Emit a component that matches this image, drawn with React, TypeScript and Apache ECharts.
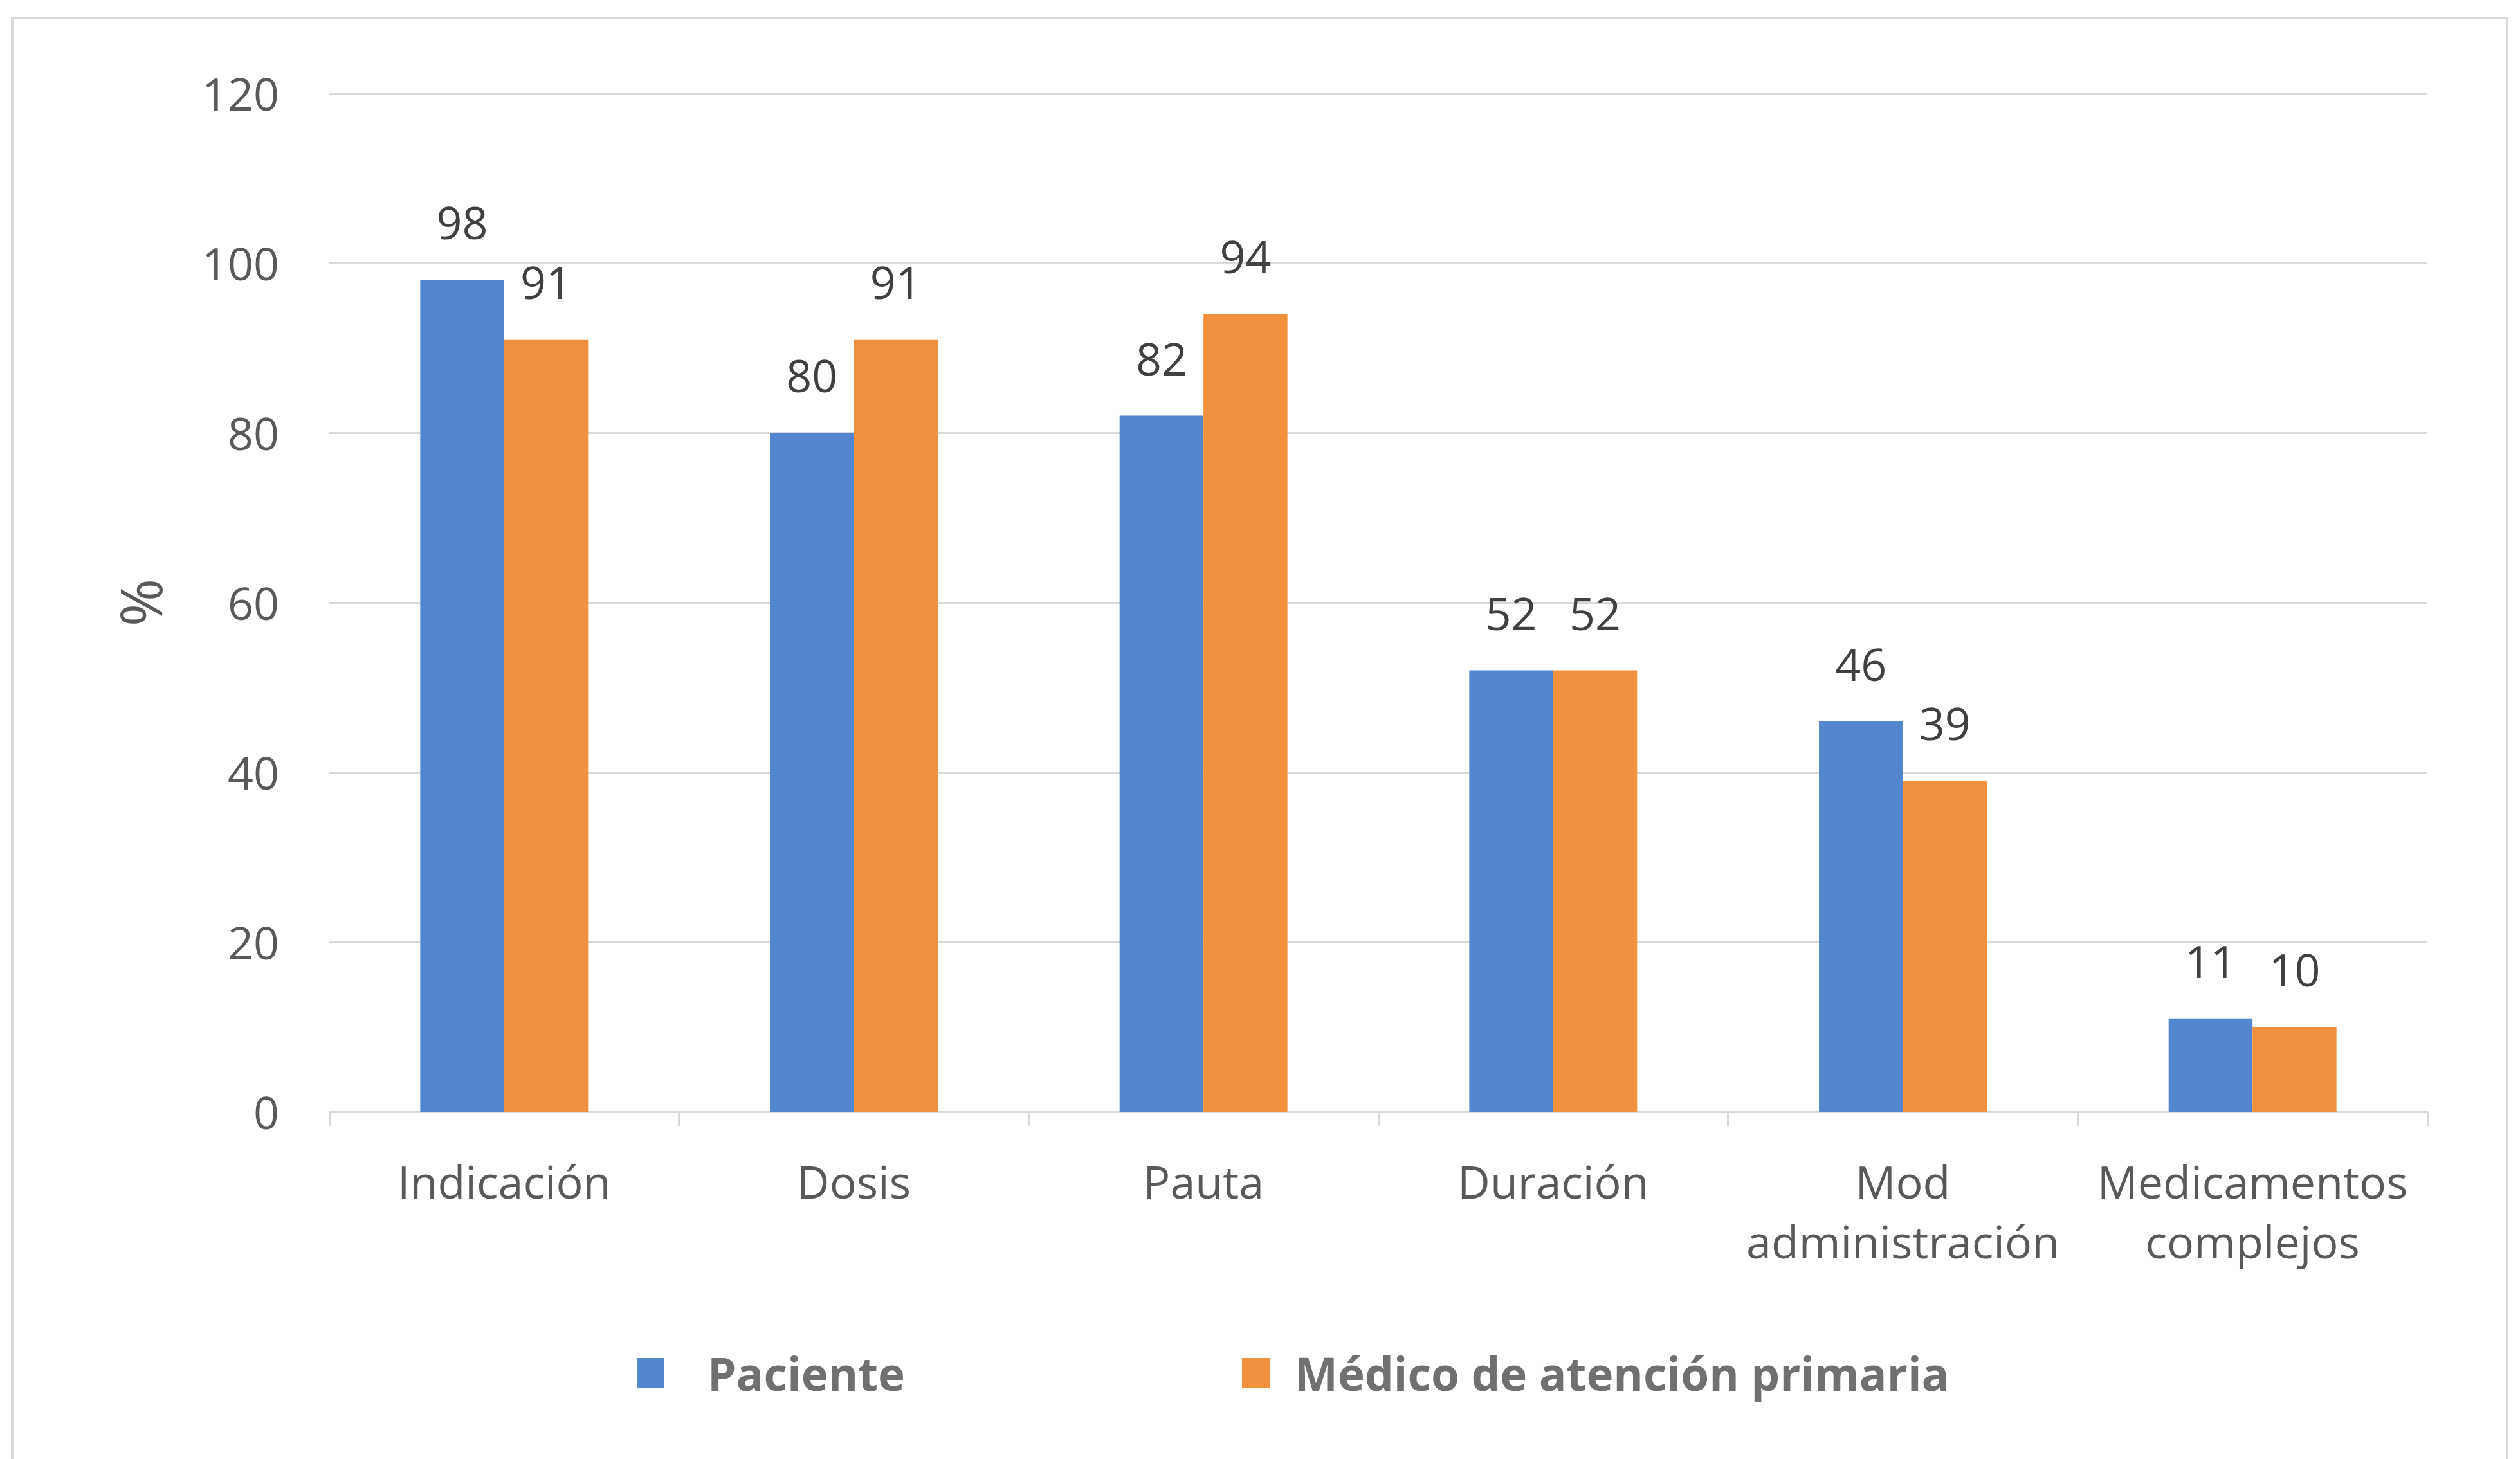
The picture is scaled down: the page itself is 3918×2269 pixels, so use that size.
import React, { useEffect, useRef } from "react";
import * as echarts from "echarts";

const categories = ["Indicación", "Dosis", "Pauta", "Duración", "Mod\nadministración", "Medicamentos\ncomplejos"];
const pacienteValues = [98, 80, 82, 52, 46, 11];
const medicoValues = [91, 91, 94, 52, 39, 10];
const seriesNames = ["Paciente", "Médico de atención primaria"];
const yTicks = { min: 0, max: 120, interval: 20 };
const yAxisName = "%";

const FONT = "'Open Sans', 'Noto Sans', sans-serif";
const BLUE = "#5286CE";
const ORANGE = "#F2913D";

export default function App() {
  const ref = useRef<HTMLDivElement>(null);
  useEffect(() => {
    if (!ref.current) return;
    const chart = echarts.init(ref.current, undefined, { renderer: "svg" });
    const labelStyle = {
      show: true,
      position: "top",
      distance: 55,
      fontSize: 70,
      fontFamily: FONT,
      color: "#404040",
    };
    chart.setOption({
      animation: false,
      backgroundColor: "#ffffff",
      textStyle: { fontFamily: FONT },
      graphic: [
        {
          type: "rect",
          shape: { x: 19, y: 28, width: 3879, height: 2300 },
          style: { fill: "none", stroke: "#dadada", lineWidth: 4 },
          silent: true,
          z: -1,
        },
      ],
      grid: { left: 512, right: 144, top: 145, bottom: 540, containLabel: false },
      legend: [
        {
          data: [seriesNames[0]],
          left: 991,
          top: 2100,
          padding: 0,
          itemWidth: 42,
          itemHeight: 47,
          icon: "rect",
          textStyle: {
            fontSize: 71,
            fontWeight: "bold",
            color: "#707070",
            fontFamily: FONT,
            padding: [0, 0, 0, 62],
          },
        },
        {
          data: [seriesNames[1]],
          left: 1931,
          top: 2100,
          padding: 0,
          itemWidth: 44,
          itemHeight: 47,
          icon: "rect",
          textStyle: {
            fontSize: 71,
            fontWeight: "bold",
            color: "#707070",
            fontFamily: FONT,
            padding: [0, 0, 0, 33],
          },
        },
      ],
      xAxis: {
        type: "category",
        data: categories,
        axisLine: { show: true, lineStyle: { color: "#d9d9d9", width: 3 } },
        axisTick: { show: true, length: 22, lineStyle: { color: "#d9d9d9", width: 3 } },
        axisLabel: {
          fontSize: 70,
          fontFamily: FONT,
          color: "#595959",
          lineHeight: 93,
          margin: 61,
          interval: 0,
        },
      },
      yAxis: {
        type: "value",
        min: yTicks.min,
        max: yTicks.max,
        interval: yTicks.interval,
        name: yAxisName,
        nameLocation: "middle",
        nameGap: 250,
        nameTextStyle: { fontSize: 90, fontFamily: FONT, color: "#595959" },
        axisLine: { show: false },
        axisTick: { show: false },
        axisLabel: { fontSize: 70, fontFamily: FONT, color: "#595959", margin: 78 },
        splitLine: { show: true, lineStyle: { color: "#d9d9d9", width: 3 } },
      },
      series: [
        {
          name: seriesNames[0],
          type: "bar",
          data: pacienteValues,
          itemStyle: { color: BLUE },
          barGap: "0%",
          barCategoryGap: "52%",
          label: labelStyle,
        },
        {
          name: seriesNames[1],
          type: "bar",
          data: medicoValues,
          itemStyle: { color: ORANGE },
          barGap: "0%",
          barCategoryGap: "52%",
          label: labelStyle,
        },
      ],
    });
    return () => chart.dispose();
  }, []);
  return (
    <div
      ref={ref}
      style={{ position: "fixed", left: 0, top: 0, width: 3918, height: 2269, background: "#fff" }}
    />
  );
}
